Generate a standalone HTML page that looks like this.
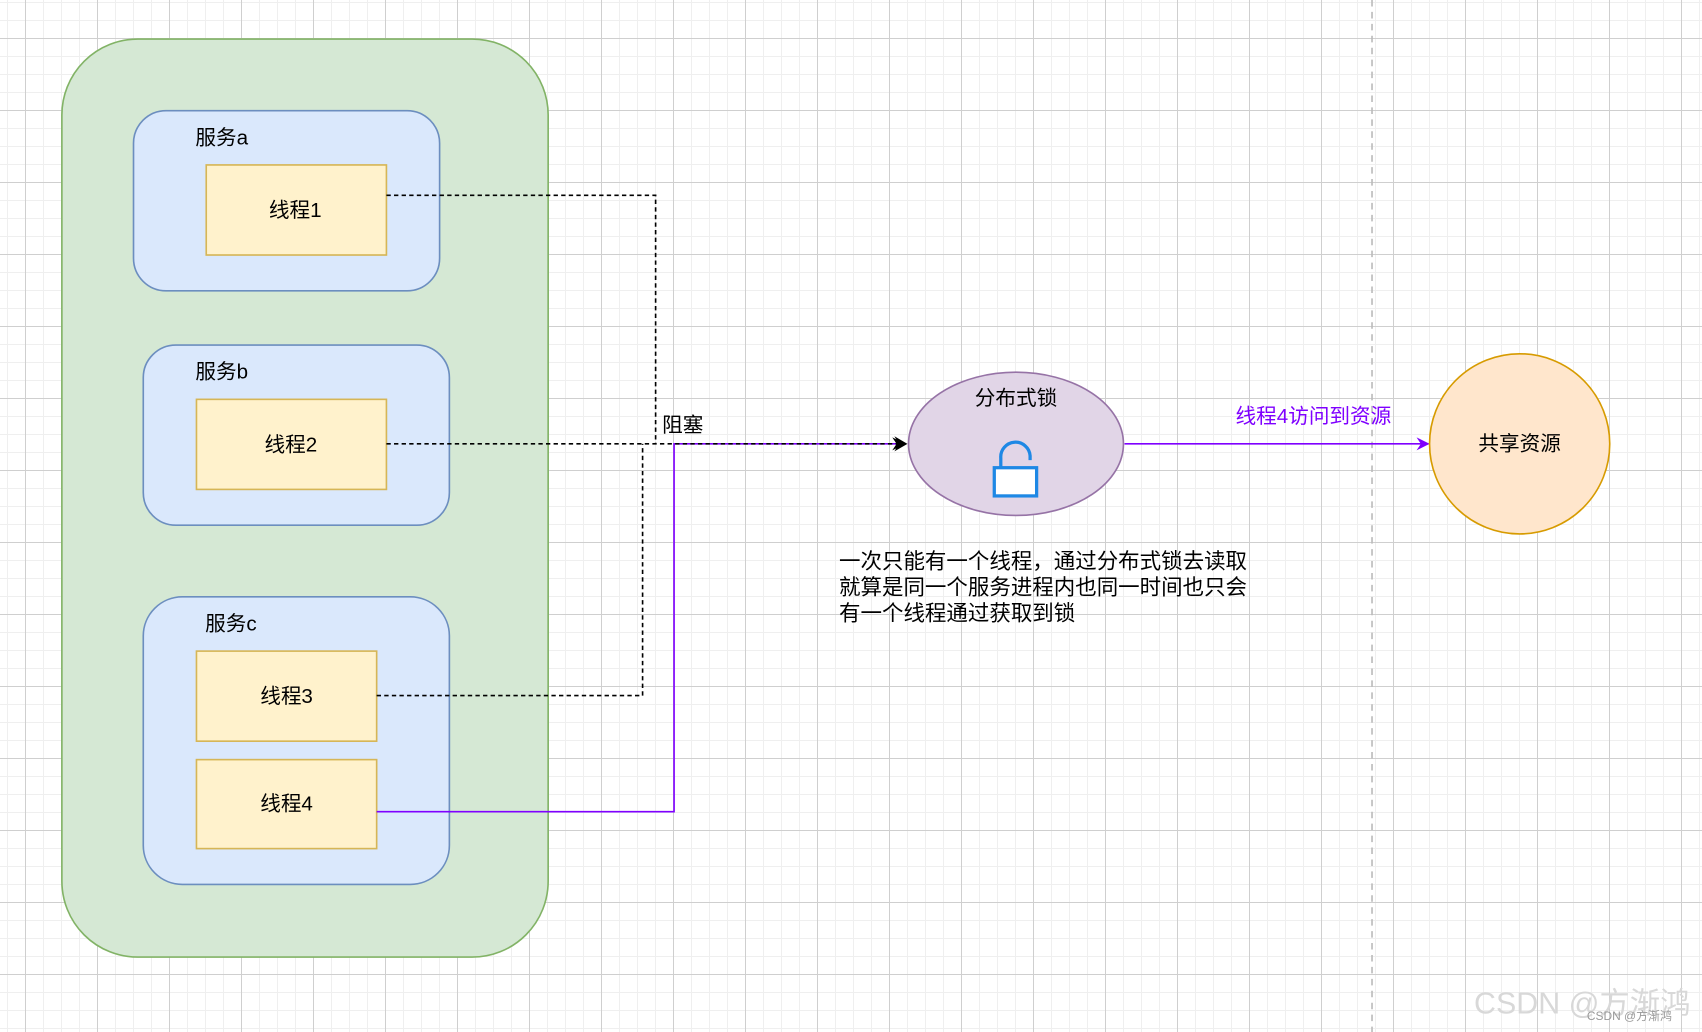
<!DOCTYPE html>
<html><head><meta charset="utf-8"><style>
html,body{margin:0;padding:0;width:1702px;height:1032px;overflow:hidden;background:#fff}
.bg{position:absolute;left:0;top:0;width:1702px;height:1032px;
background-image:
linear-gradient(to right,#cfcfcf 1px,transparent 1px),
linear-gradient(to bottom,#cfcfcf 1px,transparent 1px),
linear-gradient(to right,#efefef 1px,transparent 1px),
linear-gradient(to bottom,#efefef 1px,transparent 1px);
background-size:72px 72px,72px 72px,18px 18px,18px 18px;
background-position:25px 0,0 38px,7px 0,0 2px;}
svg{position:absolute;left:0;top:0}
text{font-family:"Liberation Sans","Noto Sans CJK SC",sans-serif;}
</style></head><body>
<div class="bg"></div>
<svg width="1702" height="1032" viewBox="0 0 1568 951" preserveAspectRatio="none">
<defs>
<marker id="ab" markerWidth="12" markerHeight="12" refX="11" refY="6" orient="auto" markerUnits="userSpaceOnUse"><path d="M0,0 L12,6 L0,12 L4,6 Z" fill="#000"/></marker>
<marker id="ap" markerWidth="12" markerHeight="12" refX="11" refY="6" orient="auto" markerUnits="userSpaceOnUse"><path d="M0,0 L12,6 L0,12 L4,6 Z" fill="#7f00ff"/></marker>
</defs>
<line x1="1264" y1="0" x2="1264" y2="951" stroke="#bbb" stroke-width="1.5" stroke-dasharray="6,5"/>
<rect x="57" y="36" width="448" height="846" rx="70" fill="#d5e8d4" stroke="#82b366" stroke-width="1.5"/>
<rect x="123" y="102" width="282" height="166" rx="30" fill="#dae8fc" stroke="#6c8ebf" stroke-width="1.5"/>
<rect x="132" y="318" width="282" height="166" rx="30" fill="#dae8fc" stroke="#6c8ebf" stroke-width="1.5"/>
<rect x="132" y="550" width="282" height="265" rx="36" fill="#dae8fc" stroke="#6c8ebf" stroke-width="1.5"/>
<g font-size="19" fill="#000">
<text x="180" y="133">服务a</text>
<text x="180" y="349">服务b</text>
<text x="189" y="581">服务c</text>
</g>
<g fill="#fff2cc" stroke="#d6b656" stroke-width="1.5">
<rect x="190" y="152" width="166" height="83"/>
<rect x="181" y="368" width="175" height="83"/>
<rect x="181" y="600" width="166" height="83"/>
<rect x="181" y="700" width="166" height="82"/>
</g>
<g font-size="19" text-anchor="middle" fill="#000">
<text x="272" y="200">线程1</text>
<text x="268" y="416">线程2</text>
<text x="264" y="648">线程3</text>
<text x="264" y="747">线程4</text>
</g>
<polyline points="347,748 621,748 621,409 833,409" fill="none" stroke="#7f00ff" stroke-width="1.5"/>
<g fill="none" stroke="#000" stroke-width="1.5" stroke-dasharray="4,3">
<polyline points="356,180 604,180 604,409"/>
<polyline points="356,409 833,409" marker-end="url(#ab)"/>
<polyline points="347,641 592,641 592,409"/>
</g>
<path d="M824,402 L836,409 L824,416 L828,409 Z" fill="#000"/>
<text x="610" y="398" font-size="19">阻塞</text>
<ellipse cx="936" cy="409" rx="99" ry="66" fill="#e1d5e7" stroke="#9673a6" stroke-width="1.5"/>
<text x="936" y="373" font-size="19" text-anchor="middle">分布式锁</text>
<path d="M922,431 V422 A13,13 0 0 1 949,420 V424" fill="none" stroke="#1e88e5" stroke-width="3"/>
<rect x="916" y="431" width="39" height="26" fill="#fff" stroke="#1e88e5" stroke-width="3"/>
<line x1="1036" y1="409" x2="1316" y2="409" stroke="#7f00ff" stroke-width="1.5" marker-end="url(#ap)"/>
<text x="1210" y="390" font-size="19" fill="#7f00ff" text-anchor="middle">线程4访问到资源</text>
<circle cx="1400" cy="409" r="83" fill="#ffe6cc" stroke="#d79b00" stroke-width="1.5"/>
<text x="1400" y="415" font-size="19" text-anchor="middle">共享资源</text>
<g font-size="19.8">
<text x="773" y="524">一次只能有一个线程，通过分布式锁去读取</text>
<text x="773" y="548">就算是同一个服务进程内也同一时间也只会</text>
<text x="773" y="572">有一个线程通过获取到锁</text>
</g>
<text x="1358" y="934" font-size="28" fill="#d8d8d8">CSDN @方渐鸿</text>
<text x="1462" y="940" font-size="11" fill="#999">CSDN @方渐鸿</text>
</svg>
</body></html>
